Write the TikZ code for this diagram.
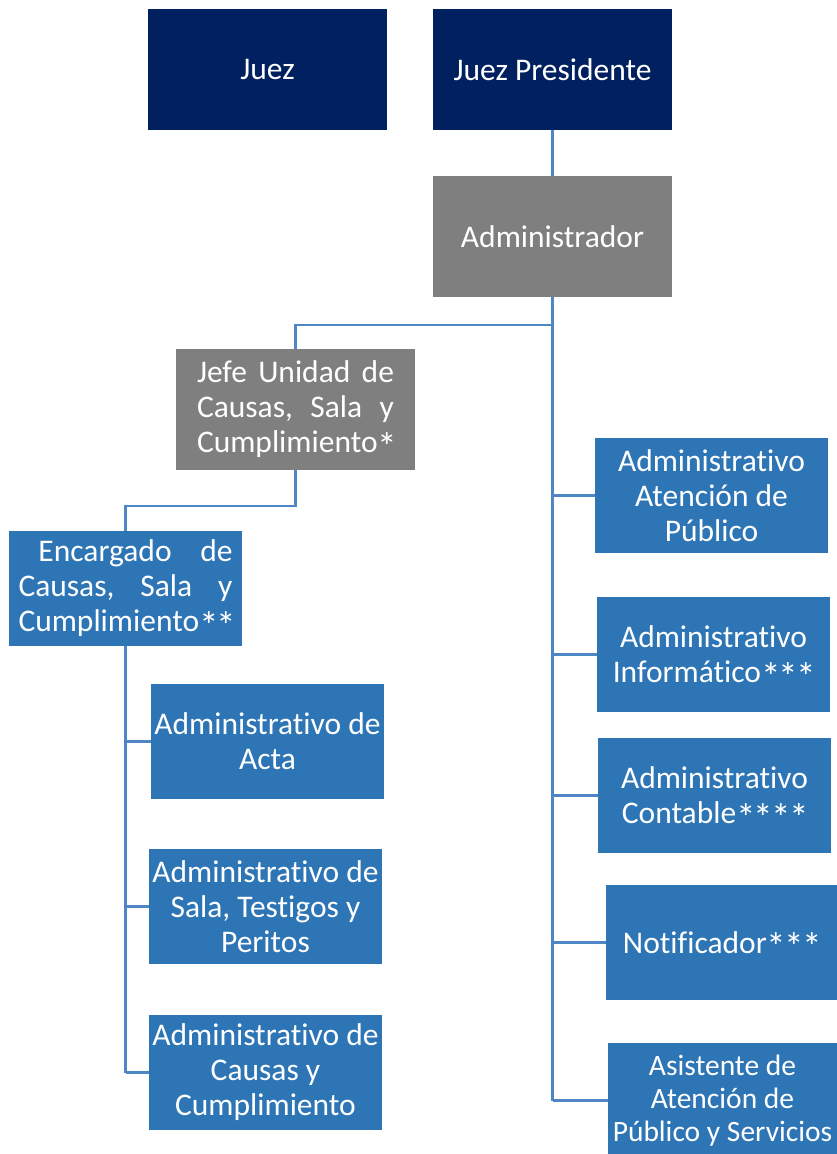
\documentclass[tikz,border=0pt]{standalone}
\usepackage{graphicx}
\usepackage{fontspec}
\setmainfont{Carlito}[Ligatures=TeX,RawFeature={-liga;-clig;-calt;-dlig}]
\newcommand\bigast{\smash{\raisebox{-0.24em}{\scalebox{1.25}{*}}}\kern-0.06em}
\definecolor{navy}{HTML}{002060}
\definecolor{grayb}{HTML}{7F7F7F}
\definecolor{blueb}{HTML}{2E75B6}
\definecolor{linec}{HTML}{4F86C6}
\tikzset{
  box/.style={rectangle, draw=none, text=white, minimum width=239pt, minimum height=121pt, inner sep=0pt, align=center, font=\fontsize{31.5}{35}\selectfont},
  navybox/.style={box, fill=navy},
  graybox/.style={box, fill=grayb},
  bluebox/.style={box, fill=blueb, minimum width=233pt, minimum height=115pt},
  conn/.style={draw=linec, line width=2.6pt}
}
\begin{document}
\begin{tikzpicture}[x=1pt,y=-1pt]
\useasboundingbox (0,0) rectangle (837,1154);
\node[navybox] (juez) at (267.5,69.5) {Juez};
\node[navybox] (pres) at (552.5,69.5) {Juez Presidente};
\node[graybox] (admin) at (552.5,236.5) {Administrador};
\node[graybox] (jefe) at (295.5,409.5) {\hbox to 197pt{Jefe\hfill Unidad\hfill de}\\\hbox to 197pt{Causas,\hfill Sala\hfill y}\\\hbox to 197pt{Cumplimiento\bigast\hfill}};
\node[bluebox] (enc) at (125.5,588.5) {\hbox to 214pt{\hspace{20pt}Encargado\hfill de}\\\hbox to 214pt{Causas,\hfill Sala\hfill y}\\\hbox to 214pt{Cumplimiento\bigast\bigast\hfill}};
\node[bluebox] (acta) at (267.5,741.5) {Administrativo de\\Acta};
\node[bluebox] (sala) at (265.5,906.5) {Administrativo de\\Sala, Testigos y\\Peritos};
\node[bluebox] (causas) at (265.5,1072.5) {Administrativo de\\Causas y\\Cumplimiento};
\node[bluebox] (aten) at (711.5,495.5) {Administrativo\\Atención de\\Público};
\node[bluebox] (info) at (713.5,654.5) {Administrativo\\Informático\bigast\bigast\bigast};
\node[bluebox] (cont) at (714.5,795.5) {Administrativo\\Contable\bigast\bigast\bigast\bigast};
\node[bluebox, minimum width=231pt] (noti) at (721.5,942.5) {Notificador\bigast\bigast\bigast};
\node[bluebox, minimum width=229pt, font=\fontsize{29.5}{33}\selectfont] (asis) at (722.5,1100.5) {Asistente de\\Atención de\\Público y Servicios};
% connectors
\draw[conn] (pres.south) -- (admin.north);
\coordinate (rb) at (552.5,1101);
\draw[conn] (admin.south) -- (rb);
\draw[conn] (admin.south |- 0,325) -| (jefe.north);
\draw[conn] (jefe.south) |- (enc.north |- 0,506) -- (enc.north);
\coordinate (lb) at (125.5,1072.5);
\draw[conn] (enc.south) -- (lb);
\foreach \n in {aten,info,cont,noti,asis}{
  \draw[conn] (admin.south |- \n.west) -- (\n.west);
}
\foreach \n in {acta,sala,causas}{
  \draw[conn] (enc.south |- \n.west) -- (\n.west);
}
\end{tikzpicture}
\end{document}
